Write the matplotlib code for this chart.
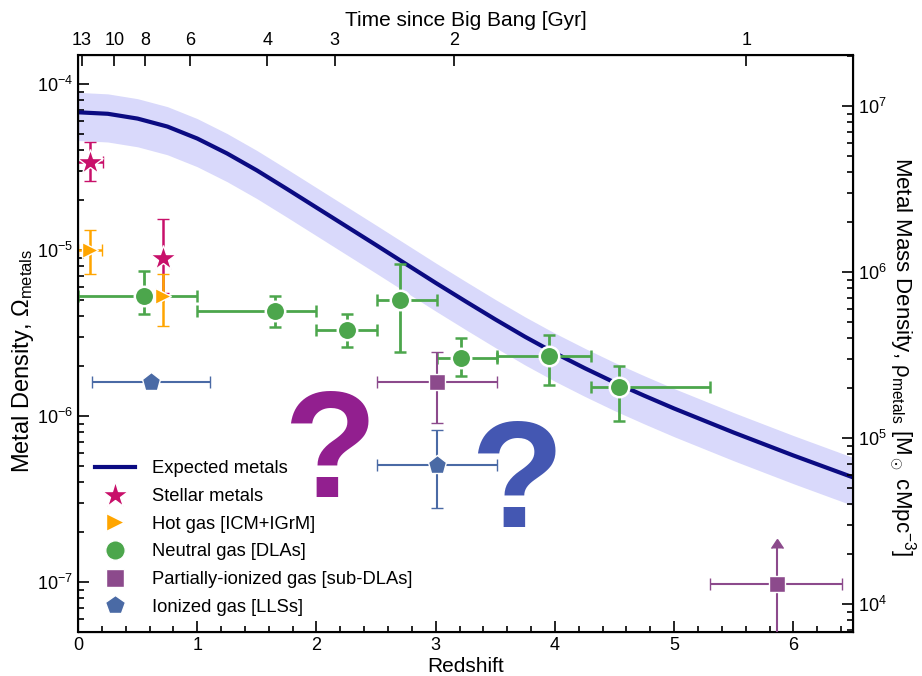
import numpy as np
import matplotlib.pyplot as plt
from matplotlib.lines import Line2D
from matplotlib.ticker import LogLocator, MultipleLocator, NullFormatter

plt.rcParams['font.family'] = ['Liberation Sans', 'DejaVu Sans']
plt.rcParams['mathtext.fontset'] = 'custom'
plt.rcParams['mathtext.rm'] = 'Liberation Sans'
plt.rcParams['mathtext.it'] = 'Liberation Sans:italic'
plt.rcParams['mathtext.bf'] = 'Liberation Sans:bold'

# Expected metals curve, log10 Omega
curve_z = [0, 0.25, 0.5, 0.75, 1.0, 1.25, 1.5, 1.75, 2.0, 2.25, 2.5, 2.75, 3.0,
           3.25, 3.5, 3.75, 4.0, 4.25, 4.5, 4.75, 5.0, 5.5, 6.0, 6.5]
curve_log = [-4.169, -4.178, -4.207, -4.255, -4.327, -4.417, -4.519, -4.630, -4.743,
             -4.856, -4.969, -5.083, -5.197, -5.308, -5.417, -5.522, -5.620, -5.711,
             -5.797, -5.877, -5.954, -6.099, -6.237, -6.369]
band_up_dex = 0.12
band_lo_dex = 0.17

# Stellar metals
star_z = [0.10, 0.71]
star_zerr = [0.11, 0.0]
star_y = [3.4e-5, 9.0e-6]
star_ylo = [2.6e-5, 5.5e-6]
star_yhi = [4.5e-5, 1.55e-5]

# Hot gas [ICM+IGrM]
hot_z = [0.10, 0.71]
hot_zerr = [0.10, 0.0]
hot_y = [1.0e-5, 5.3e-6]
hot_ylo = [7.2e-6, 3.5e-6]
hot_yhi = [1.32e-5, 7.2e-6]

# Neutral gas [DLAs]
dla_z = [0.55, 1.65, 2.26, 2.70, 3.21, 3.95, 4.54]
dla_zlo = [0.0, 1.0, 2.0, 2.51, 3.01, 3.51, 4.30]
dla_zhi = [1.0, 2.0, 2.51, 3.01, 3.51, 4.30, 5.30]
dla_y = [5.3e-6, 4.3e-6, 3.3e-6, 5.0e-6, 2.25e-6, 2.3e-6, 1.5e-6]
dla_ylo = [4.1e-6, 3.45e-6, 2.6e-6, 2.45e-6, 1.75e-6, 1.55e-6, 9.3e-7]
dla_yhi = [7.5e-6, 5.3e-6, 4.1e-6, 8.3e-6, 2.95e-6, 3.1e-6, 2.0e-6]

# Partially-ionized gas [sub-DLAs]
sub_z = [3.01, 5.86]
sub_zlo = [2.51, 5.30]
sub_zhi = [3.51, 6.41]
sub_y = [1.6e-6, 9.8e-8]
sub_ylo = [9.1e-7, 3.0e-8]
sub_yhi = [2.45e-6, 1.6e-7]
sub_is_limit = [False, True]

# Ionized gas [LLSs]
lls_z = [0.61, 3.01]
lls_zlo = [0.12, 2.51]
lls_zhi = [1.11, 3.51]
lls_y = [1.6e-6, 5.1e-7]
lls_ylo = [1.6e-6, 2.8e-7]
lls_yhi = [1.6e-6, 8.3e-7]

age_ticks = [13, 10, 8, 6, 4, 3, 2, 1]

# cosmology (flat, H0=70, Om=0.3) for the top axis and the right axis
H0 = 70.0 / 977.8  # 1/Gyr
Om, OL = 0.3, 0.7
rho_crit = 1.36e11  # Msun / cMpc^3
ylims = (5e-8, 1.5e-4)


def z_of_age(t):
    x = np.sinh(1.5 * np.sqrt(OL) * H0 * np.asarray(t))
    return (x * np.sqrt(Om / OL)) ** (-2.0 / 3.0) - 1.0


c_line = '#0b0b82'
c_band = '#d9d9fb'
c_star = '#c8106a'
c_hot = '#ffa500'
c_dla = '#4ca64c'
c_sub = '#8c4a8c'
c_lls = '#4a6aa5'

fig = plt.figure(figsize=(9.22, 6.76), dpi=100)
ax = fig.add_axes([0.0846, 0.065, 0.8406, 0.8536])

cz = np.array(curve_z)
cl = np.array(curve_log)
ax.fill_between(cz, 10 ** (cl - band_lo_dex), 10 ** (cl + band_up_dex),
                color=c_band, lw=0, zorder=1)
ax.plot(cz, 10 ** cl, color=c_line, lw=3, zorder=2)


def yerrs(y, lo, hi):
    y = np.array(y)
    return [y - np.array(lo), np.array(hi) - y]


def xerrs(z, lo, hi):
    z = np.array(z)
    return [z - np.array(lo), np.array(hi) - z]


eb = dict(capsize=4, zorder=4, markeredgecolor='white', linestyle='none')

ax.errorbar(star_z, star_y, yerr=yerrs(star_y, star_ylo, star_yhi), xerr=star_zerr,
            fmt='*', ms=19, color=c_star, elinewidth=1.8, capthick=1.8,
            markeredgewidth=1, **eb)
ax.errorbar(hot_z, hot_y, yerr=yerrs(hot_y, hot_ylo, hot_yhi), xerr=hot_zerr,
            fmt='>', ms=12, color=c_hot, elinewidth=1.8, capthick=1.8,
            markeredgewidth=1, **eb)
ax.errorbar(dla_z, dla_y, yerr=yerrs(dla_y, dla_ylo, dla_yhi),
            xerr=xerrs(dla_z, dla_zlo, dla_zhi),
            fmt='o', ms=14, color=c_dla, elinewidth=2, capthick=2,
            markeredgewidth=1.8, **eb)

for i in range(len(sub_z)):
    if sub_is_limit[i]:
        ax.errorbar([sub_z[i]], [sub_y[i]], yerr=[[sub_y[i] - sub_ylo[i]], [0]],
                    xerr=[[sub_z[i] - sub_zlo[i]], [sub_zhi[i] - sub_z[i]]],
                    fmt='s', ms=11, color=c_sub, elinewidth=1.5, capthick=1.5,
                    markeredgewidth=1, **eb)
        ax.errorbar([sub_z[i]], [sub_y[i]], yerr=[[0], [sub_yhi[i] - sub_y[i]]],
                    lolims=True, fmt='none', ecolor=c_sub, color=c_sub,
                    elinewidth=1.5, capsize=4.5, zorder=3)
    else:
        ax.errorbar([sub_z[i]], [sub_y[i]],
                    yerr=[[sub_y[i] - sub_ylo[i]], [sub_yhi[i] - sub_y[i]]],
                    xerr=[[sub_z[i] - sub_zlo[i]], [sub_zhi[i] - sub_z[i]]],
                    fmt='s', ms=11, color=c_sub, elinewidth=1.5, capthick=1.5,
                    markeredgewidth=1, **eb)

ax.errorbar(lls_z, lls_y, yerr=yerrs(lls_y, lls_ylo, lls_yhi),
            xerr=xerrs(lls_z, lls_zlo, lls_zhi),
            fmt='p', ms=14, color=c_lls, elinewidth=1.5, capthick=1.5,
            markeredgewidth=1, **eb)

# big question marks
ax.text(2.11, 5.6e-7, '?', fontsize=110, fontweight='bold', color='#921f8f',
        ha='center', va='center', zorder=3)
ax.text(3.68, 3.7e-7, '?', fontsize=110, fontweight='bold', color='#4457b2',
        ha='center', va='center', zorder=3)

ax.set_yscale('log')
ax.set_xlim(0, 6.5)
ax.set_ylim(*ylims)
ax.set_xlabel('Redshift', fontsize=15, labelpad=2)
ax.set_ylabel(r'Metal Density, Ω$_{\rm metals}$', fontsize=17, labelpad=1)
ax.yaxis.label.set_y(0.47)
ax.xaxis.set_major_locator(MultipleLocator(1))
ax.xaxis.set_minor_locator(MultipleLocator(0.2))
ax.yaxis.set_major_locator(LogLocator(base=10, numticks=10))
ax.yaxis.set_minor_locator(LogLocator(base=10, subs=np.arange(2, 10), numticks=20))
ax.yaxis.set_minor_formatter(NullFormatter())
ax.tick_params(which='both', direction='in', labelsize=13, width=1.2)
ax.tick_params(which='major', length=8)
ax.tick_params(which='minor', length=4)
ax.tick_params(axis='y', which='both', right=False)
ax.tick_params(axis='x', which='both', top=False)
for s in ax.spines.values():
    s.set_linewidth(1.5)

# right axis: metal mass density
ax2 = ax.twinx()
ax2.set_yscale('log')
ax2.set_ylim(ylims[0] * rho_crit, ylims[1] * rho_crit)
ax2.yaxis.set_minor_locator(LogLocator(base=10, subs=np.arange(2, 10), numticks=20))
ax2.yaxis.set_minor_formatter(NullFormatter())
ax2.tick_params(which='both', direction='in', labelsize=13, width=1.2)
ax2.tick_params(which='major', length=8)
ax2.tick_params(which='minor', length=4)
ax2.set_ylabel(r'Metal Mass Density, ρ$_{\rm metals}$ [M$_\odot$ cMpc$^{-3}$]',
               fontsize=16, rotation=270, labelpad=22)
ax2.yaxis.label.set_y(0.478)

# top axis: time since big bang
ax3 = ax.twiny()
ax3.set_xlim(0, 6.5)
ax3.set_xticks(z_of_age(age_ticks))
ax3.set_xticklabels([str(t) for t in age_ticks])
ax3.xaxis.set_minor_locator(plt.NullLocator())
ax3.tick_params(direction='in', length=8, width=1.2, labelsize=13, pad=4)
ax3.set_xlabel('Time since Big Bang [Gyr]', fontsize=15, labelpad=5)

handles = [
    Line2D([], [], color=c_line, lw=3),
    Line2D([], [], marker='*', color=c_star, ls='none', ms=20, mec='white', mew=1),
    Line2D([], [], marker='>', color=c_hot, ls='none', ms=13, mec='white', mew=1),
    Line2D([], [], marker='o', color=c_dla, ls='none', ms=14, mec='white', mew=1),
    Line2D([], [], marker='s', color=c_sub, ls='none', ms=13, mec='white', mew=1),
    Line2D([], [], marker='p', color=c_lls, ls='none', ms=15, mec='white', mew=1),
]
labels = ['Expected metals', 'Stellar metals', 'Hot gas [ICM+IGrM]',
          'Neutral gas [DLAs]', 'Partially-ionized gas [sub-DLAs]', 'Ionized gas [LLSs]']
ax.legend(handles, labels, loc='lower left', bbox_to_anchor=(0.0, 0.0),
          frameon=False, fontsize=13.2, handlelength=2.2, labelspacing=0.58,
          handletextpad=0.95, numpoints=1)

plt.savefig('out.png', dpi=100)
